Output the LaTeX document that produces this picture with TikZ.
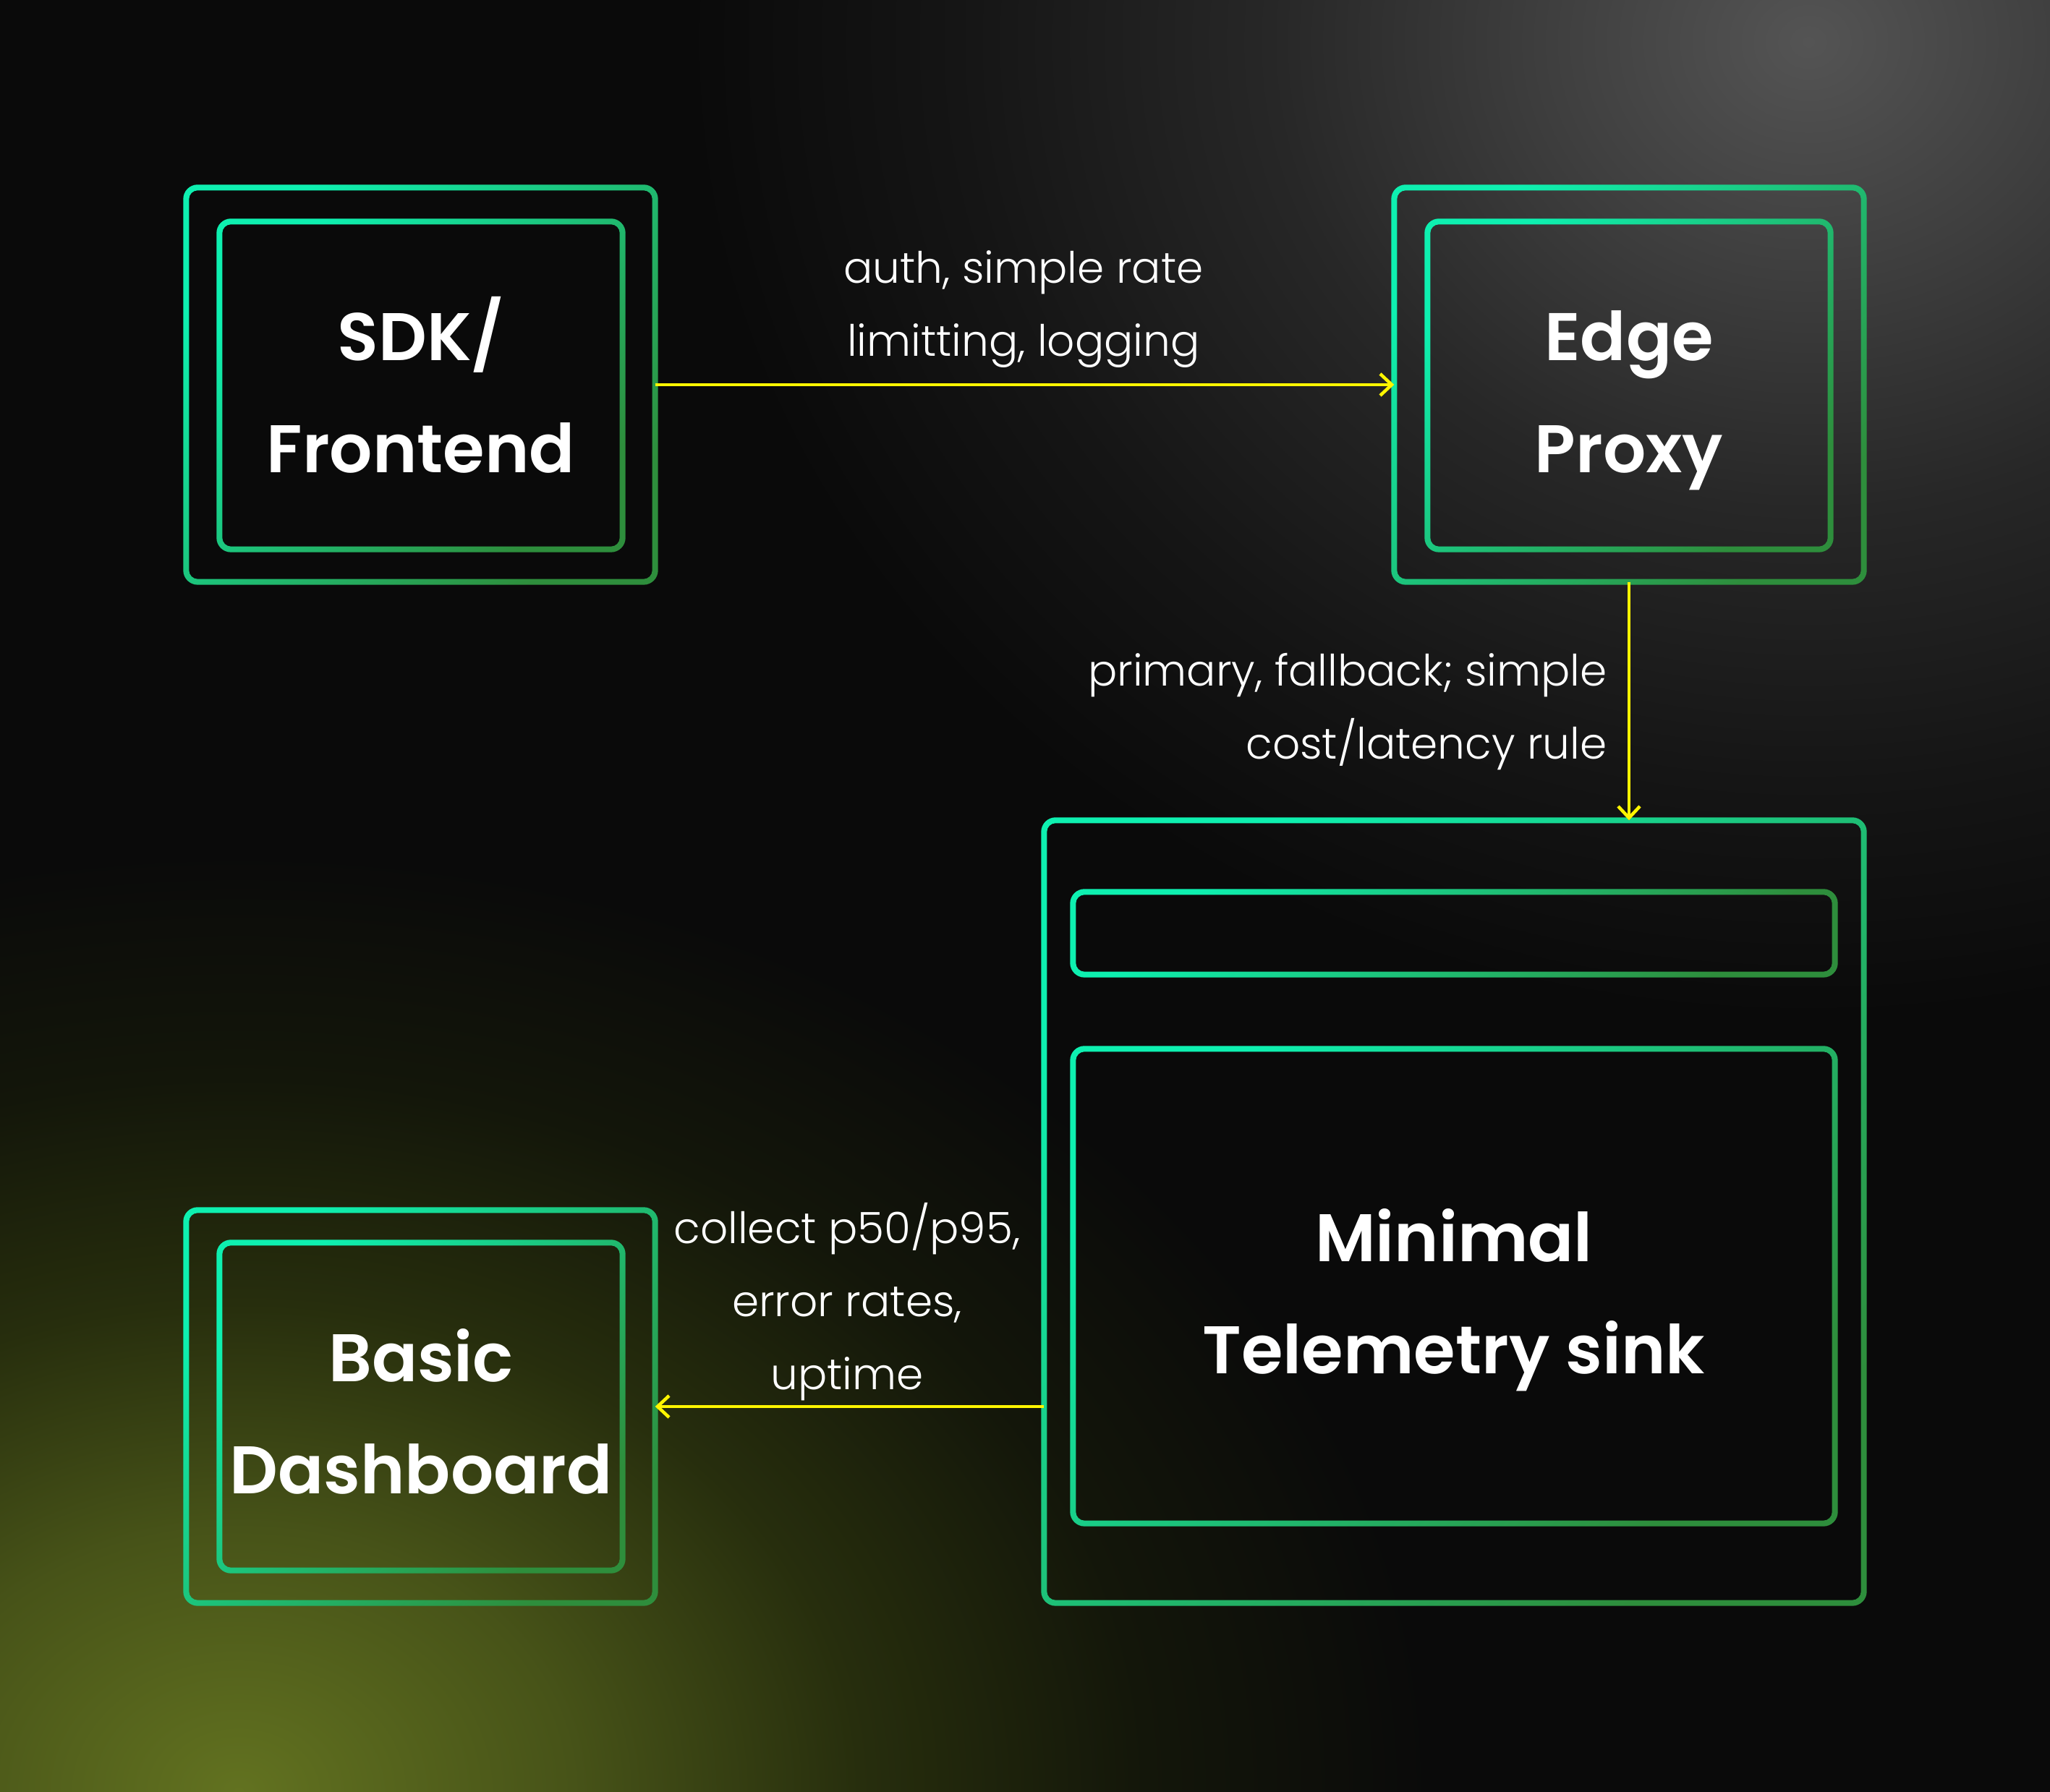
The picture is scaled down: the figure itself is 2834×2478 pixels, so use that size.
\documentclass[tikz,border=0pt]{standalone}
\usepackage{fontspec}
\setmainfont{Poppins}
\newfontfamily\labelfont{Poppins Light}
\newfontfamily\titlefont{Poppins SemiBold}
\usetikzlibrary{arrows.meta,calc,fit}
\definecolor{bg}{HTML}{0A0A0A}
\definecolor{greyA}{HTML}{545454}
\definecolor{greyB}{HTML}{3E3E3E}
\definecolor{greyC}{HTML}{272727}
\definecolor{greyD}{HTML}{151515}
\definecolor{oliveA}{HTML}{627220}
\definecolor{oliveB}{HTML}{475318}
\definecolor{oliveC}{HTML}{272E0D}
\definecolor{oliveD}{HTML}{13160A}
\definecolor{mint}{HTML}{0EF0B0}
\definecolor{deepgreen}{HTML}{2E8E3C}
\definecolor{flowyellow}{HTML}{FFF500}
\pgfdeclareradialshading{greyglow}{\pgfpoint{0bp}{0bp}}{color(0bp)=(greyA); color(6bp)=(greyB); color(12bp)=(greyC); color(19bp)=(greyD); color(25bp)=(bg); color(50bp)=(bg)}
\pgfdeclareradialshading{oliveglow}{\pgfpoint{0bp}{0bp}}{color(0bp)=(oliveA); color(7bp)=(oliveB); color(13bp)=(oliveC); color(19bp)=(oliveD); color(25bp)=(bg); color(50bp)=(bg)}
\tikzset{
  boxnode/.style={inner sep=0pt, draw=none},
  ring/.style={even odd rule, top color=mint, bottom color=deepgreen, shading angle=45},
  title/.style={text=white, anchor=base, inner sep=0pt, font=\titlefont\fontsize{26.5}{40}\selectfont},
  lbl/.style={text=white, font=\labelfont\fontsize{17}{28.7}\selectfont},
  flow/.style={draw=flowyellow, line width=0.4mm, -{Straight Barb[length=1.6mm, width=3.0mm, line width=0.45mm]}}
}
\newcommand\gring[1]{%
  \shade[ring]
    [rounded corners=2.0mm] ($(#1.south west)+(-4,-4)$) rectangle ($(#1.north east)+(4,4)$)
    [rounded corners=1.2mm] ($(#1.south west)+(4,4)$) rectangle ($(#1.north east)+(-4,-4)$);}
\newcommand\twotitle[4]{% name, box, line1, line2
  \node[title] (#1a) at ($(#2.center)+(0,34)$) {#3};
  \node[title] (#1b) at ($(#2.center)+(0,-121)$) {#4};}
\begin{document}
\begin{tikzpicture}[x=0.1mm,y=0.1mm]
\useasboundingbox (0,0) rectangle (2834,2478);
\fill[bg] (0,0) rectangle (2834,2478);
\begin{scope}
  \clip (0,0) rectangle (2834,2478);
  \shade[shading=greyglow] (2500,2420) ellipse (1550 and 1350);
  \shade[shading=oliveglow] (330,0) ellipse (1650 and 1300);
\end{scope}
% boxes
\node[boxnode, fit={(258,1674) (905,2218)}] (sdk) {};
\node[boxnode, fit={(304,1719) (860,2171)}] (sdkin) {};
\node[boxnode, fit={(1928,1674) (2576,2218)}] (edge) {};
\node[boxnode, fit={(1974,1719) (2530,2171)}] (edgein) {};
\node[boxnode, fit={(1444,262) (2576,1343)}] (tele) {};
\node[boxnode, fit={(1484,1131) (2536,1244)}] (telebar) {};
\node[boxnode, fit={(1484,372) (2536,1027)}] (telein) {};
\node[boxnode, fit={(258,262) (905,804)}] (dash) {};
\node[boxnode, fit={(304,307) (860,759)}] (dashin) {};
\gring{sdk}\gring{sdkin}
\gring{edge}\gring{edgein}
\gring{tele}\gring{telebar}\gring{telein}
\gring{dash}\gring{dashin}
% titles
\twotitle{sdkt}{sdkin}{SDK/}{Frontend}
\twotitle{edget}{edgein}{Edge}{Proxy}
\twotitle{telet}{telein}{Minimal}{Telemetry sink}
\twotitle{dasht}{dashin}{Basic}{Dashboard}
% connectors
\draw[flow] (sdk.east) -- (edge.west);
\draw[flow] (edge.south) -- (edge.south |- tele.north);
\draw[flow] (tele.west |- dash.east) -- (dash.east);
% labels
\node[lbl, align=center] (l1) at (1415,2050) {auth, simple rate\\limitting, logging};
\node[lbl, align=right, anchor=east] (l2) at (2234,1494) {primary, fallback; simple\\cost/latency rule};
\node[lbl, align=center] (l3) at (1171,678) {collect p50/p95,\\error rates,\\uptime};
\end{tikzpicture}
\end{document}
